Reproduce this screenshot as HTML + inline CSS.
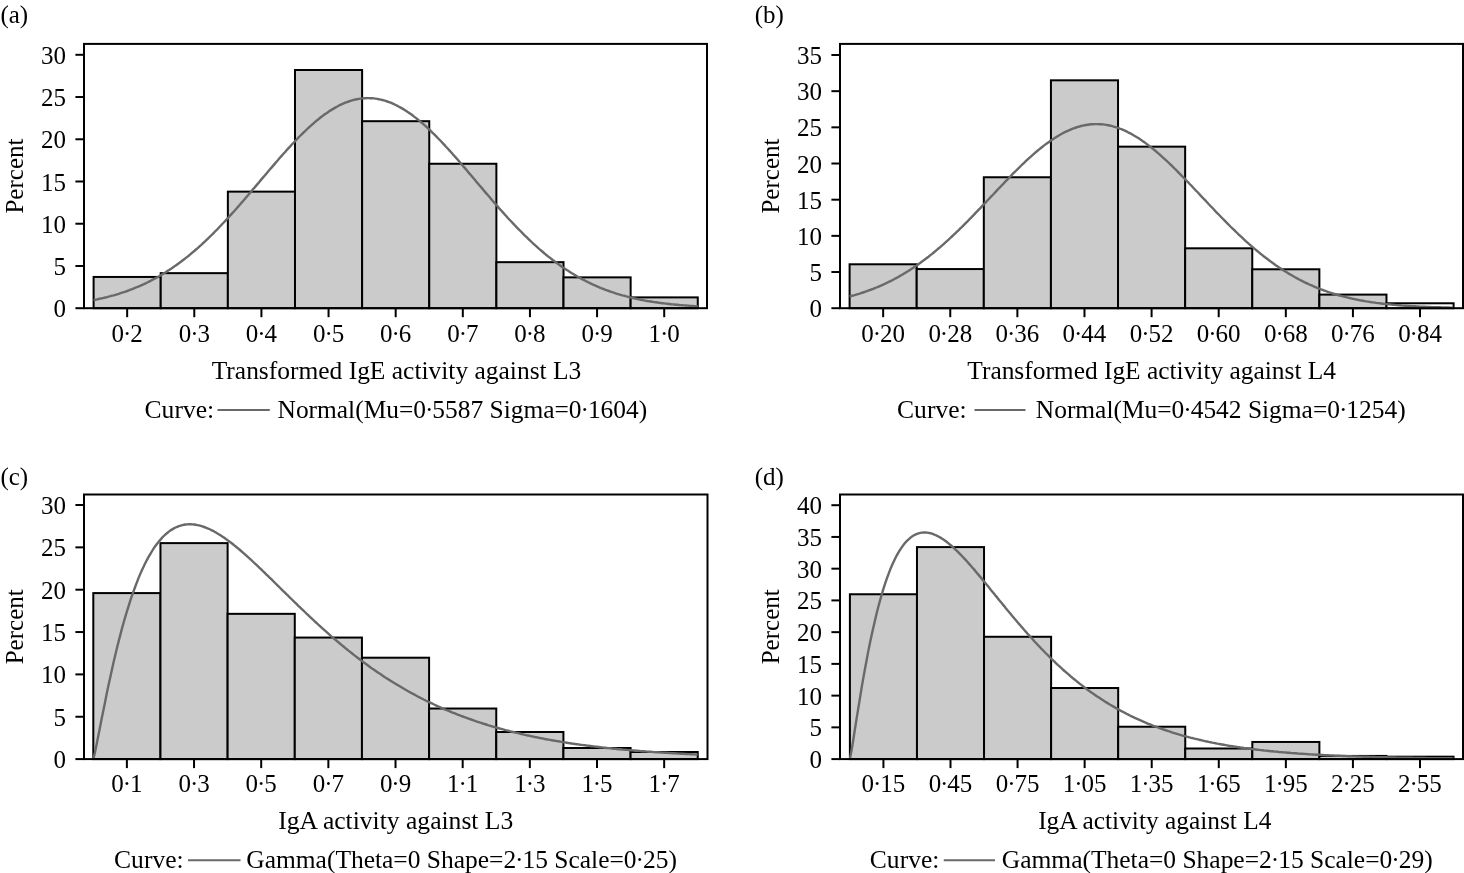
<!DOCTYPE html>
<html lang="en"><head><meta charset="utf-8"><title>Histograms of IgE and IgA activity</title>
<style>html,body{margin:0;padding:0;background:#fff}svg{display:block;will-change:transform;filter:grayscale(1)}</style></head>
<body>
<svg width="1464" height="873" viewBox="0 0 1464 873" font-family="'Liberation Serif', 'Times New Roman', Times, serif" font-size="25" fill="#000">
<rect width="1464" height="873" fill="#fff"/>
<g>
<rect x="93.60" y="276.95" width="67.13" height="31.25" fill="#cbcbcb" stroke="#000" stroke-width="2"/>
<rect x="160.73" y="273.15" width="67.13" height="35.05" fill="#cbcbcb" stroke="#000" stroke-width="2"/>
<rect x="227.86" y="191.64" width="67.13" height="116.56" fill="#cbcbcb" stroke="#000" stroke-width="2"/>
<rect x="294.99" y="70.00" width="67.13" height="238.20" fill="#cbcbcb" stroke="#000" stroke-width="2"/>
<rect x="362.12" y="121.19" width="67.13" height="187.01" fill="#cbcbcb" stroke="#000" stroke-width="2"/>
<rect x="429.25" y="163.76" width="67.13" height="144.44" fill="#cbcbcb" stroke="#000" stroke-width="2"/>
<rect x="496.38" y="262.17" width="67.13" height="46.03" fill="#cbcbcb" stroke="#000" stroke-width="2"/>
<rect x="563.51" y="277.37" width="67.13" height="30.83" fill="#cbcbcb" stroke="#000" stroke-width="2"/>
<rect x="630.64" y="297.39" width="67.13" height="10.81" fill="#cbcbcb" stroke="#000" stroke-width="2"/>
<polyline points="93.6,300.0 95.3,299.7 97.0,299.4 98.6,299.0 100.3,298.6 102.0,298.3 103.7,297.9 105.3,297.5 107.0,297.1 108.7,296.6 110.4,296.2 112.1,295.7 113.7,295.3 115.4,294.8 117.1,294.3 118.8,293.8 120.5,293.2 122.1,292.7 123.8,292.1 125.5,291.6 127.2,291.0 128.8,290.4 130.5,289.7 132.2,289.1 133.9,288.4 135.6,287.7 137.2,287.0 138.9,286.3 140.6,285.6 142.3,284.8 143.9,284.1 145.6,283.3 147.3,282.5 149.0,281.6 150.7,280.8 152.3,279.9 154.0,279.0 155.7,278.1 157.4,277.2 159.1,276.2 160.7,275.2 162.4,274.2 164.1,273.2 165.8,272.2 167.4,271.1 169.1,270.0 170.8,268.9 172.5,267.8 174.2,266.6 175.8,265.4 177.5,264.2 179.2,263.0 180.9,261.8 182.5,260.5 184.2,259.2 185.9,257.9 187.6,256.6 189.3,255.2 190.9,253.8 192.6,252.4 194.3,251.0 196.0,249.5 197.7,248.1 199.3,246.6 201.0,245.1 202.7,243.5 204.4,242.0 206.0,240.4 207.7,238.8 209.4,237.2 211.1,235.5 212.8,233.9 214.4,232.2 216.1,230.5 217.8,228.8 219.5,227.0 221.1,225.3 222.8,223.5 224.5,221.7 226.2,219.9 227.9,218.1 229.5,216.3 231.2,214.4 232.9,212.5 234.6,210.7 236.3,208.8 237.9,206.9 239.6,205.0 241.3,203.0 243.0,201.1 244.6,199.2 246.3,197.2 248.0,195.3 249.7,193.3 251.4,191.3 253.0,189.3 254.7,187.4 256.4,185.4 258.1,183.4 259.7,181.4 261.4,179.4 263.1,177.4 264.8,175.5 266.5,173.5 268.1,171.5 269.8,169.5 271.5,167.6 273.2,165.6 274.9,163.6 276.5,161.7 278.2,159.8 279.9,157.8 281.6,155.9 283.2,154.0 284.9,152.2 286.6,150.3 288.3,148.4 290.0,146.6 291.6,144.8 293.3,143.0 295.0,141.2 296.7,139.5 298.3,137.7 300.0,136.0 301.7,134.4 303.4,132.7 305.1,131.1 306.7,129.5 308.4,127.9 310.1,126.4 311.8,124.9 313.5,123.4 315.1,121.9 316.8,120.5 318.5,119.2 320.2,117.8 321.8,116.5 323.5,115.3 325.2,114.0 326.9,112.9 328.6,111.7 330.2,110.6 331.9,109.6 333.6,108.6 335.3,107.6 336.9,106.7 338.6,105.8 340.3,104.9 342.0,104.1 343.7,103.4 345.3,102.7 347.0,102.1 348.7,101.5 350.4,100.9 352.1,100.4 353.7,99.9 355.4,99.5 357.1,99.2 358.8,98.9 360.4,98.6 362.1,98.4 363.8,98.3 365.5,98.2 367.2,98.1 368.8,98.1 370.5,98.2 372.2,98.3 373.9,98.4 375.5,98.6 377.2,98.9 378.9,99.2 380.6,99.6 382.3,100.0 383.9,100.4 385.6,100.9 387.3,101.5 389.0,102.1 390.7,102.7 392.3,103.4 394.0,104.2 395.7,105.0 397.4,105.8 399.0,106.7 400.7,107.6 402.4,108.6 404.1,109.6 405.8,110.7 407.4,111.8 409.1,112.9 410.8,114.1 412.5,115.3 414.1,116.6 415.8,117.9 417.5,119.2 419.2,120.6 420.9,122.0 422.5,123.4 424.2,124.9 425.9,126.4 427.6,128.0 429.2,129.5 430.9,131.1 432.6,132.8 434.3,134.4 436.0,136.1 437.6,137.8 439.3,139.5 441.0,141.3 442.7,143.1 444.4,144.9 446.0,146.7 447.7,148.5 449.4,150.4 451.1,152.2 452.7,154.1 454.4,156.0 456.1,157.9 457.8,159.8 459.5,161.8 461.1,163.7 462.8,165.7 464.5,167.6 466.2,169.6 467.8,171.6 469.5,173.6 471.2,175.5 472.9,177.5 474.6,179.5 476.2,181.5 477.9,183.5 479.6,185.5 481.3,187.4 483.0,189.4 484.6,191.4 486.3,193.4 488.0,195.3 489.7,197.3 491.3,199.2 493.0,201.2 494.7,203.1 496.4,205.0 498.1,206.9 499.7,208.9 501.4,210.7 503.1,212.6 504.8,214.5 506.4,216.3 508.1,218.2 509.8,220.0 511.5,221.8 513.2,223.6 514.8,225.3 516.5,227.1 518.2,228.8 519.9,230.5 521.6,232.2 523.2,233.9 524.9,235.6 526.6,237.2 528.3,238.8 529.9,240.4 531.6,242.0 533.3,243.6 535.0,245.1 536.7,246.6 538.3,248.1 540.0,249.6 541.7,251.0 543.4,252.5 545.0,253.9 546.7,255.3 548.4,256.6 550.1,257.9 551.8,259.3 553.4,260.6 555.1,261.8 556.8,263.1 558.5,264.3 560.2,265.5 561.8,266.7 563.5,267.8 565.2,268.9 566.9,270.1 568.5,271.1 570.2,272.2 571.9,273.3 573.6,274.3 575.3,275.3 576.9,276.2 578.6,277.2 580.3,278.1 582.0,279.1 583.6,279.9 585.3,280.8 587.0,281.7 588.7,282.5 590.4,283.3 592.0,284.1 593.7,284.9 595.4,285.6 597.1,286.4 598.8,287.1 600.4,287.8 602.1,288.5 603.8,289.1 605.5,289.8 607.1,290.4 608.8,291.0 610.5,291.6 612.2,292.2 613.9,292.7 615.5,293.3 617.2,293.8 618.9,294.3 620.6,294.8 622.2,295.3 623.9,295.7 625.6,296.2 627.3,296.6 629.0,297.1 630.6,297.5 632.3,297.9 634.0,298.3 635.7,298.6 637.4,299.0 639.0,299.4 640.7,299.7 642.4,300.0 644.1,300.4 645.7,300.7 647.4,301.0 649.1,301.2 650.8,301.5 652.5,301.8 654.1,302.1 655.8,302.3 657.5,302.5 659.2,302.8 660.8,303.0 662.5,303.2 664.2,303.4 665.9,303.6 667.6,303.8 669.2,304.0 670.9,304.2 672.6,304.4 674.3,304.5 676.0,304.7 677.6,304.8 679.3,305.0 681.0,305.1 682.7,305.3 684.3,305.4 686.0,305.5 687.7,305.6 689.4,305.8 691.1,305.9 692.7,306.0 694.4,306.1 696.1,306.2 697.8,306.3" fill="none" stroke="#696969" stroke-width="2.4" stroke-linejoin="round"/>
<rect x="84" y="43.9" width="623" height="264.3" fill="none" stroke="#000" stroke-width="2"/>
<line x1="75.4" y1="308.20" x2="84" y2="308.20" stroke="#000" stroke-width="2"/>
<text x="66" y="317.20" text-anchor="end">0</text>
<line x1="75.4" y1="265.97" x2="84" y2="265.97" stroke="#000" stroke-width="2"/>
<text x="66" y="274.97" text-anchor="end">5</text>
<line x1="75.4" y1="223.73" x2="84" y2="223.73" stroke="#000" stroke-width="2"/>
<text x="66" y="232.73" text-anchor="end">10</text>
<line x1="75.4" y1="181.50" x2="84" y2="181.50" stroke="#000" stroke-width="2"/>
<text x="66" y="190.50" text-anchor="end">15</text>
<line x1="75.4" y1="139.27" x2="84" y2="139.27" stroke="#000" stroke-width="2"/>
<text x="66" y="148.27" text-anchor="end">20</text>
<line x1="75.4" y1="97.03" x2="84" y2="97.03" stroke="#000" stroke-width="2"/>
<text x="66" y="106.03" text-anchor="end">25</text>
<line x1="75.4" y1="54.80" x2="84" y2="54.80" stroke="#000" stroke-width="2"/>
<text x="66" y="63.80" text-anchor="end">30</text>
<line x1="127.16" y1="308.2" x2="127.16" y2="317.2" stroke="#000" stroke-width="2"/>
<text x="127.16" y="341.6" text-anchor="middle">0<tspan dx="-1.04">·</tspan><tspan dx="-1.04">2</tspan></text>
<line x1="194.29" y1="308.2" x2="194.29" y2="317.2" stroke="#000" stroke-width="2"/>
<text x="194.29" y="341.6" text-anchor="middle">0<tspan dx="-1.04">·</tspan><tspan dx="-1.04">3</tspan></text>
<line x1="261.42" y1="308.2" x2="261.42" y2="317.2" stroke="#000" stroke-width="2"/>
<text x="261.42" y="341.6" text-anchor="middle">0<tspan dx="-1.04">·</tspan><tspan dx="-1.04">4</tspan></text>
<line x1="328.55" y1="308.2" x2="328.55" y2="317.2" stroke="#000" stroke-width="2"/>
<text x="328.55" y="341.6" text-anchor="middle">0<tspan dx="-1.04">·</tspan><tspan dx="-1.04">5</tspan></text>
<line x1="395.68" y1="308.2" x2="395.68" y2="317.2" stroke="#000" stroke-width="2"/>
<text x="395.68" y="341.6" text-anchor="middle">0<tspan dx="-1.04">·</tspan><tspan dx="-1.04">6</tspan></text>
<line x1="462.81" y1="308.2" x2="462.81" y2="317.2" stroke="#000" stroke-width="2"/>
<text x="462.81" y="341.6" text-anchor="middle">0<tspan dx="-1.04">·</tspan><tspan dx="-1.04">7</tspan></text>
<line x1="529.94" y1="308.2" x2="529.94" y2="317.2" stroke="#000" stroke-width="2"/>
<text x="529.94" y="341.6" text-anchor="middle">0<tspan dx="-1.04">·</tspan><tspan dx="-1.04">8</tspan></text>
<line x1="597.07" y1="308.2" x2="597.07" y2="317.2" stroke="#000" stroke-width="2"/>
<text x="597.07" y="341.6" text-anchor="middle">0<tspan dx="-1.04">·</tspan><tspan dx="-1.04">9</tspan></text>
<line x1="664.21" y1="308.2" x2="664.21" y2="317.2" stroke="#000" stroke-width="2"/>
<text x="664.21" y="341.6" text-anchor="middle">1<tspan dx="-1.04">·</tspan><tspan dx="-1.04">0</tspan></text>
<text transform="translate(23.1,176.04999999999998) rotate(-90)" text-anchor="middle">Percent</text>
<text x="0.4" y="22.6">(a)</text>
<text x="211.70" y="378.6" textLength="369.60" lengthAdjust="spacingAndGlyphs">Transformed IgE activity against L3</text>
<text x="144.60" y="417.8" textLength="69.50" lengthAdjust="spacingAndGlyphs">Curve:</text>
<line x1="217.5" y1="410.1" x2="269.8" y2="410.1" stroke="#696969" stroke-width="2"/>
<text x="277.55" y="417.8" textLength="369.65" lengthAdjust="spacingAndGlyphs">Normal(Mu=0<tspan dx="-1.04">·</tspan><tspan dx="-1.04">5587 Sigma=0</tspan><tspan dx="-1.04">·</tspan><tspan dx="-1.04">1604)</tspan></text>
</g>
<g>
<rect x="849.60" y="264.29" width="67.11" height="43.91" fill="#cbcbcb" stroke="#000" stroke-width="2"/>
<rect x="916.71" y="269.06" width="67.11" height="39.14" fill="#cbcbcb" stroke="#000" stroke-width="2"/>
<rect x="983.82" y="177.26" width="67.11" height="130.94" fill="#cbcbcb" stroke="#000" stroke-width="2"/>
<rect x="1050.93" y="80.32" width="67.11" height="227.88" fill="#cbcbcb" stroke="#000" stroke-width="2"/>
<rect x="1118.04" y="146.66" width="67.11" height="161.54" fill="#cbcbcb" stroke="#000" stroke-width="2"/>
<rect x="1185.15" y="248.30" width="67.11" height="59.90" fill="#cbcbcb" stroke="#000" stroke-width="2"/>
<rect x="1252.26" y="269.28" width="67.11" height="38.92" fill="#cbcbcb" stroke="#000" stroke-width="2"/>
<rect x="1319.37" y="294.60" width="67.11" height="13.60" fill="#cbcbcb" stroke="#000" stroke-width="2"/>
<rect x="1386.48" y="303.28" width="67.11" height="4.92" fill="#ffffff" stroke="#000" stroke-width="2"/>
<polyline points="849.6,296.5 851.3,296.0 853.0,295.5 854.6,295.1 856.3,294.6 858.0,294.1 859.7,293.6 861.3,293.0 863.0,292.5 864.7,291.9 866.4,291.3 868.1,290.7 869.7,290.1 871.4,289.5 873.1,288.9 874.8,288.2 876.4,287.5 878.1,286.8 879.8,286.1 881.5,285.4 883.2,284.6 884.8,283.8 886.5,283.0 888.2,282.2 889.9,281.4 891.5,280.6 893.2,279.7 894.9,278.8 896.6,277.9 898.3,277.0 899.9,276.0 901.6,275.0 903.3,274.1 905.0,273.0 906.6,272.0 908.3,271.0 910.0,269.9 911.7,268.8 913.4,267.7 915.0,266.5 916.7,265.4 918.4,264.2 920.1,263.0 921.7,261.8 923.4,260.6 925.1,259.3 926.8,258.0 928.5,256.7 930.1,255.4 931.8,254.1 933.5,252.7 935.2,251.3 936.8,249.9 938.5,248.5 940.2,247.1 941.9,245.6 943.6,244.1 945.2,242.6 946.9,241.1 948.6,239.6 950.3,238.0 951.9,236.5 953.6,234.9 955.3,233.3 957.0,231.7 958.7,230.1 960.3,228.4 962.0,226.8 963.7,225.1 965.4,223.4 967.0,221.8 968.7,220.1 970.4,218.3 972.1,216.6 973.8,214.9 975.4,213.1 977.1,211.4 978.8,209.6 980.5,207.9 982.1,206.1 983.8,204.4 985.5,202.6 987.2,200.8 988.9,199.0 990.5,197.2 992.2,195.5 993.9,193.7 995.6,191.9 997.2,190.1 998.9,188.3 1000.6,186.6 1002.3,184.8 1004.0,183.1 1005.6,181.3 1007.3,179.6 1009.0,177.8 1010.7,176.1 1012.3,174.4 1014.0,172.7 1015.7,171.0 1017.4,169.3 1019.1,167.7 1020.7,166.0 1022.4,164.4 1024.1,162.8 1025.8,161.2 1027.4,159.7 1029.1,158.1 1030.8,156.6 1032.5,155.1 1034.2,153.6 1035.8,152.2 1037.5,150.8 1039.2,149.4 1040.9,148.0 1042.5,146.7 1044.2,145.4 1045.9,144.1 1047.6,142.9 1049.3,141.7 1050.9,140.5 1052.6,139.4 1054.3,138.3 1056.0,137.2 1057.6,136.2 1059.3,135.2 1061.0,134.2 1062.7,133.3 1064.4,132.4 1066.0,131.6 1067.7,130.8 1069.4,130.1 1071.1,129.3 1072.7,128.7 1074.4,128.1 1076.1,127.5 1077.8,126.9 1079.5,126.5 1081.1,126.0 1082.8,125.6 1084.5,125.3 1086.2,125.0 1087.8,124.7 1089.5,124.5 1091.2,124.3 1092.9,124.2 1094.6,124.1 1096.2,124.1 1097.9,124.1 1099.6,124.2 1101.3,124.3 1102.9,124.4 1104.6,124.6 1106.3,124.9 1108.0,125.2 1109.7,125.5 1111.3,125.9 1113.0,126.4 1114.7,126.8 1116.4,127.4 1118.0,127.9 1119.7,128.6 1121.4,129.2 1123.1,129.9 1124.8,130.6 1126.4,131.4 1128.1,132.3 1129.8,133.1 1131.5,134.0 1133.1,135.0 1134.8,136.0 1136.5,137.0 1138.2,138.0 1139.9,139.1 1141.5,140.3 1143.2,141.4 1144.9,142.6 1146.6,143.9 1148.2,145.1 1149.9,146.4 1151.6,147.8 1153.3,149.1 1155.0,150.5 1156.6,151.9 1158.3,153.4 1160.0,154.8 1161.7,156.3 1163.3,157.8 1165.0,159.4 1166.7,160.9 1168.4,162.5 1170.1,164.1 1171.7,165.7 1173.4,167.4 1175.1,169.0 1176.8,170.7 1178.4,172.4 1180.1,174.1 1181.8,175.8 1183.5,177.5 1185.2,179.2 1186.8,181.0 1188.5,182.7 1190.2,184.5 1191.9,186.2 1193.5,188.0 1195.2,189.8 1196.9,191.5 1198.6,193.3 1200.2,195.1 1201.9,196.9 1203.6,198.7 1205.3,200.4 1207.0,202.2 1208.6,204.0 1210.3,205.8 1212.0,207.5 1213.7,209.3 1215.3,211.1 1217.0,212.8 1218.7,214.5 1220.4,216.3 1222.1,218.0 1223.7,219.7 1225.4,221.4 1227.1,223.1 1228.8,224.8 1230.4,226.5 1232.1,228.1 1233.8,229.7 1235.5,231.4 1237.2,233.0 1238.8,234.6 1240.5,236.2 1242.2,237.7 1243.9,239.3 1245.5,240.8 1247.2,242.3 1248.9,243.8 1250.6,245.3 1252.3,246.8 1253.9,248.2 1255.6,249.6 1257.3,251.0 1259.0,252.4 1260.6,253.8 1262.3,255.1 1264.0,256.5 1265.7,257.8 1267.4,259.0 1269.0,260.3 1270.7,261.6 1272.4,262.8 1274.1,264.0 1275.7,265.2 1277.4,266.3 1279.1,267.5 1280.8,268.6 1282.5,269.7 1284.1,270.7 1285.8,271.8 1287.5,272.8 1289.2,273.9 1290.8,274.8 1292.5,275.8 1294.2,276.8 1295.9,277.7 1297.6,278.6 1299.2,279.5 1300.9,280.4 1302.6,281.2 1304.3,282.1 1305.9,282.9 1307.6,283.7 1309.3,284.5 1311.0,285.2 1312.7,285.9 1314.3,286.7 1316.0,287.4 1317.7,288.1 1319.4,288.7 1321.0,289.4 1322.7,290.0 1324.4,290.6 1326.1,291.2 1327.8,291.8 1329.4,292.4 1331.1,292.9 1332.8,293.5 1334.5,294.0 1336.1,294.5 1337.8,295.0 1339.5,295.5 1341.2,295.9 1342.9,296.4 1344.5,296.8 1346.2,297.2 1347.9,297.6 1349.6,298.0 1351.2,298.4 1352.9,298.8 1354.6,299.1 1356.3,299.5 1358.0,299.8 1359.6,300.2 1361.3,300.5 1363.0,300.8 1364.7,301.1 1366.3,301.4 1368.0,301.6 1369.7,301.9 1371.4,302.2 1373.1,302.4 1374.7,302.6 1376.4,302.9 1378.1,303.1 1379.8,303.3 1381.4,303.5 1383.1,303.7 1384.8,303.9 1386.5,304.1 1388.2,304.3 1389.8,304.4 1391.5,304.6 1393.2,304.8 1394.9,304.9 1396.5,305.1 1398.2,305.2 1399.9,305.3 1401.6,305.5 1403.3,305.6 1404.9,305.7 1406.6,305.8 1408.3,305.9 1410.0,306.0 1411.6,306.1 1413.3,306.2 1415.0,306.3 1416.7,306.4 1418.4,306.5 1420.0,306.6 1421.7,306.7 1423.4,306.7 1425.1,306.8 1426.7,306.9 1428.4,306.9 1430.1,307.0 1431.8,307.1 1433.5,307.1 1435.1,307.2 1436.8,307.2 1438.5,307.3 1440.2,307.3 1441.8,307.4 1443.5,307.4 1445.2,307.4 1446.9,307.5 1448.6,307.5 1450.2,307.6 1451.9,307.6 1453.6,307.6" fill="none" stroke="#696969" stroke-width="2.4" stroke-linejoin="round"/>
<rect x="840" y="43.9" width="623" height="264.3" fill="none" stroke="#000" stroke-width="2"/>
<line x1="831.4" y1="308.20" x2="840" y2="308.20" stroke="#000" stroke-width="2"/>
<text x="822" y="317.20" text-anchor="end">0</text>
<line x1="831.4" y1="272.03" x2="840" y2="272.03" stroke="#000" stroke-width="2"/>
<text x="822" y="281.03" text-anchor="end">5</text>
<line x1="831.4" y1="235.86" x2="840" y2="235.86" stroke="#000" stroke-width="2"/>
<text x="822" y="244.86" text-anchor="end">10</text>
<line x1="831.4" y1="199.69" x2="840" y2="199.69" stroke="#000" stroke-width="2"/>
<text x="822" y="208.69" text-anchor="end">15</text>
<line x1="831.4" y1="163.51" x2="840" y2="163.51" stroke="#000" stroke-width="2"/>
<text x="822" y="172.51" text-anchor="end">20</text>
<line x1="831.4" y1="127.34" x2="840" y2="127.34" stroke="#000" stroke-width="2"/>
<text x="822" y="136.34" text-anchor="end">25</text>
<line x1="831.4" y1="91.17" x2="840" y2="91.17" stroke="#000" stroke-width="2"/>
<text x="822" y="100.17" text-anchor="end">30</text>
<line x1="831.4" y1="55.00" x2="840" y2="55.00" stroke="#000" stroke-width="2"/>
<text x="822" y="64.00" text-anchor="end">35</text>
<line x1="883.15" y1="308.2" x2="883.15" y2="317.2" stroke="#000" stroke-width="2"/>
<text x="883.15" y="341.6" text-anchor="middle">0<tspan dx="-1.04">·</tspan><tspan dx="-1.04">20</tspan></text>
<line x1="950.26" y1="308.2" x2="950.26" y2="317.2" stroke="#000" stroke-width="2"/>
<text x="950.26" y="341.6" text-anchor="middle">0<tspan dx="-1.04">·</tspan><tspan dx="-1.04">28</tspan></text>
<line x1="1017.38" y1="308.2" x2="1017.38" y2="317.2" stroke="#000" stroke-width="2"/>
<text x="1017.38" y="341.6" text-anchor="middle">0<tspan dx="-1.04">·</tspan><tspan dx="-1.04">36</tspan></text>
<line x1="1084.49" y1="308.2" x2="1084.49" y2="317.2" stroke="#000" stroke-width="2"/>
<text x="1084.49" y="341.6" text-anchor="middle">0<tspan dx="-1.04">·</tspan><tspan dx="-1.04">44</tspan></text>
<line x1="1151.60" y1="308.2" x2="1151.60" y2="317.2" stroke="#000" stroke-width="2"/>
<text x="1151.60" y="341.6" text-anchor="middle">0<tspan dx="-1.04">·</tspan><tspan dx="-1.04">52</tspan></text>
<line x1="1218.70" y1="308.2" x2="1218.70" y2="317.2" stroke="#000" stroke-width="2"/>
<text x="1218.70" y="341.6" text-anchor="middle">0<tspan dx="-1.04">·</tspan><tspan dx="-1.04">60</tspan></text>
<line x1="1285.82" y1="308.2" x2="1285.82" y2="317.2" stroke="#000" stroke-width="2"/>
<text x="1285.82" y="341.6" text-anchor="middle">0<tspan dx="-1.04">·</tspan><tspan dx="-1.04">68</tspan></text>
<line x1="1352.92" y1="308.2" x2="1352.92" y2="317.2" stroke="#000" stroke-width="2"/>
<text x="1352.92" y="341.6" text-anchor="middle">0<tspan dx="-1.04">·</tspan><tspan dx="-1.04">76</tspan></text>
<line x1="1420.03" y1="308.2" x2="1420.03" y2="317.2" stroke="#000" stroke-width="2"/>
<text x="1420.03" y="341.6" text-anchor="middle">0<tspan dx="-1.04">·</tspan><tspan dx="-1.04">84</tspan></text>
<text transform="translate(778.9,176.04999999999998) rotate(-90)" text-anchor="middle">Percent</text>
<text x="754.8" y="22.6">(b)</text>
<text x="967.30" y="378.6" textLength="368.75" lengthAdjust="spacingAndGlyphs">Transformed IgE activity against L4</text>
<text x="897.10" y="417.8" textLength="69.50" lengthAdjust="spacingAndGlyphs">Curve:</text>
<line x1="974.5" y1="410.1" x2="1025.5" y2="410.1" stroke="#696969" stroke-width="2"/>
<text x="1035.80" y="417.8" textLength="369.85" lengthAdjust="spacingAndGlyphs">Normal(Mu=0<tspan dx="-1.04">·</tspan><tspan dx="-1.04">4542 Sigma=0</tspan><tspan dx="-1.04">·</tspan><tspan dx="-1.04">1254)</tspan></text>
</g>
<g>
<rect x="93.30" y="593.09" width="67.16" height="166.01" fill="#cbcbcb" stroke="#000" stroke-width="2"/>
<rect x="160.46" y="543.12" width="67.16" height="215.99" fill="#cbcbcb" stroke="#000" stroke-width="2"/>
<rect x="227.62" y="613.84" width="67.16" height="145.26" fill="#cbcbcb" stroke="#000" stroke-width="2"/>
<rect x="294.78" y="637.56" width="67.16" height="121.54" fill="#cbcbcb" stroke="#000" stroke-width="2"/>
<rect x="361.94" y="657.71" width="67.16" height="101.39" fill="#cbcbcb" stroke="#000" stroke-width="2"/>
<rect x="429.10" y="708.53" width="67.16" height="50.57" fill="#cbcbcb" stroke="#000" stroke-width="2"/>
<rect x="496.26" y="732.00" width="67.16" height="27.10" fill="#cbcbcb" stroke="#000" stroke-width="2"/>
<rect x="563.42" y="748.00" width="67.16" height="11.10" fill="#cbcbcb" stroke="#000" stroke-width="2"/>
<rect x="630.58" y="751.99" width="67.16" height="7.11" fill="#cbcbcb" stroke="#000" stroke-width="2"/>
<polyline points="93.3,759.1 95.0,752.2 96.7,744.1 98.3,735.7 100.0,727.2 101.7,718.6 103.4,710.2 105.1,701.9 106.7,693.7 108.4,685.7 110.1,677.9 111.8,670.3 113.4,662.9 115.1,655.7 116.8,648.7 118.5,641.9 120.2,635.4 121.8,629.1 123.5,623.0 125.2,617.2 126.9,611.5 128.6,606.1 130.2,600.9 131.9,595.9 133.6,591.1 135.3,586.5 137.0,582.1 138.6,577.9 140.3,573.9 142.0,570.1 143.7,566.5 145.3,563.1 147.0,559.8 148.7,556.7 150.4,553.8 152.1,551.0 153.7,548.4 155.4,546.0 157.1,543.7 158.8,541.6 160.5,539.6 162.1,537.7 163.8,536.0 165.5,534.4 167.2,533.0 168.9,531.6 170.5,530.4 172.2,529.4 173.9,528.4 175.6,527.5 177.2,526.8 178.9,526.1 180.6,525.6 182.3,525.1 184.0,524.8 185.6,524.5 187.3,524.4 189.0,524.3 190.7,524.3 192.4,524.4 194.0,524.5 195.7,524.8 197.4,525.1 199.1,525.4 200.8,525.9 202.4,526.4 204.1,527.0 205.8,527.6 207.5,528.3 209.2,529.0 210.8,529.8 212.5,530.6 214.2,531.5 215.9,532.5 217.5,533.5 219.2,534.5 220.9,535.6 222.6,536.7 224.3,537.8 225.9,539.0 227.6,540.2 229.3,541.4 231.0,542.7 232.7,544.0 234.3,545.4 236.0,546.7 237.7,548.1 239.4,549.5 241.1,551.0 242.7,552.4 244.4,553.9 246.1,555.4 247.8,556.9 249.4,558.4 251.1,559.9 252.8,561.5 254.5,563.1 256.2,564.6 257.8,566.2 259.5,567.8 261.2,569.4 262.9,571.1 264.6,572.7 266.2,574.3 267.9,575.9 269.6,577.6 271.3,579.2 273.0,580.9 274.6,582.5 276.3,584.2 278.0,585.8 279.7,587.5 281.3,589.1 283.0,590.8 284.7,592.4 286.4,594.1 288.1,595.7 289.7,597.4 291.4,599.0 293.1,600.7 294.8,602.3 296.5,603.9 298.1,605.6 299.8,607.2 301.5,608.8 303.2,610.4 304.9,612.0 306.5,613.6 308.2,615.2 309.9,616.8 311.6,618.4 313.2,619.9 314.9,621.5 316.6,623.0 318.3,624.6 320.0,626.1 321.6,627.6 323.3,629.1 325.0,630.6 326.7,632.1 328.4,633.6 330.0,635.1 331.7,636.6 333.4,638.0 335.1,639.5 336.8,640.9 338.4,642.3 340.1,643.7 341.8,645.1 343.5,646.5 345.1,647.9 346.8,649.2 348.5,650.6 350.2,651.9 351.9,653.3 353.5,654.6 355.2,655.9 356.9,657.2 358.6,658.5 360.3,659.8 361.9,661.0 363.6,662.3 365.3,663.5 367.0,664.7 368.7,666.0 370.3,667.2 372.0,668.4 373.7,669.5 375.4,670.7 377.1,671.9 378.7,673.0 380.4,674.1 382.1,675.3 383.8,676.4 385.4,677.5 387.1,678.6 388.8,679.6 390.5,680.7 392.2,681.8 393.8,682.8 395.5,683.8 397.2,684.8 398.9,685.8 400.6,686.8 402.2,687.8 403.9,688.8 405.6,689.8 407.3,690.7 409.0,691.7 410.6,692.6 412.3,693.5 414.0,694.4 415.7,695.3 417.3,696.2 419.0,697.1 420.7,698.0 422.4,698.8 424.1,699.7 425.7,700.5 427.4,701.3 429.1,702.1 430.8,702.9 432.5,703.7 434.1,704.5 435.8,705.3 437.5,706.1 439.2,706.8 440.9,707.6 442.5,708.3 444.2,709.1 445.9,709.8 447.6,710.5 449.2,711.2 450.9,711.9 452.6,712.6 454.3,713.2 456.0,713.9 457.6,714.6 459.3,715.2 461.0,715.9 462.7,716.5 464.4,717.1 466.0,717.7 467.7,718.3 469.4,718.9 471.1,719.5 472.8,720.1 474.4,720.7 476.1,721.3 477.8,721.8 479.5,722.4 481.1,722.9 482.8,723.5 484.5,724.0 486.2,724.5 487.9,725.1 489.5,725.6 491.2,726.1 492.9,726.6 494.6,727.1 496.3,727.5 497.9,728.0 499.6,728.5 501.3,728.9 503.0,729.4 504.7,729.9 506.3,730.3 508.0,730.7 509.7,731.2 511.4,731.6 513.0,732.0 514.7,732.4 516.4,732.8 518.1,733.2 519.8,733.6 521.4,734.0 523.1,734.4 524.8,734.8 526.5,735.2 528.2,735.5 529.8,735.9 531.5,736.3 533.2,736.6 534.9,737.0 536.6,737.3 538.2,737.6 539.9,738.0 541.6,738.3 543.3,738.6 545.0,739.0 546.6,739.3 548.3,739.6 550.0,739.9 551.7,740.2 553.3,740.5 555.0,740.8 556.7,741.1 558.4,741.3 560.1,741.6 561.7,741.9 563.4,742.2 565.1,742.4 566.8,742.7 568.5,743.0 570.1,743.2 571.8,743.5 573.5,743.7 575.2,744.0 576.9,744.2 578.5,744.4 580.2,744.7 581.9,744.9 583.6,745.1 585.2,745.3 586.9,745.6 588.6,745.8 590.3,746.0 592.0,746.2 593.6,746.4 595.3,746.6 597.0,746.8 598.7,747.0 600.4,747.2 602.0,747.4 603.7,747.6 605.4,747.8 607.1,748.0 608.8,748.1 610.4,748.3 612.1,748.5 613.8,748.7 615.5,748.8 617.1,749.0 618.8,749.2 620.5,749.3 622.2,749.5 623.9,749.6 625.5,749.8 627.2,749.9 628.9,750.1 630.6,750.2 632.3,750.4 633.9,750.5 635.6,750.7 637.3,750.8 639.0,750.9 640.7,751.1 642.3,751.2 644.0,751.3 645.7,751.4 647.4,751.6 649.0,751.7 650.7,751.8 652.4,751.9 654.1,752.1 655.8,752.2 657.4,752.3 659.1,752.4 660.8,752.5 662.5,752.6 664.2,752.7 665.8,752.8 667.5,752.9 669.2,753.0 670.9,753.1 672.6,753.2 674.2,753.3 675.9,753.4 677.6,753.5 679.3,753.6 680.9,753.7 682.6,753.8 684.3,753.9 686.0,754.0 687.7,754.1 689.3,754.1 691.0,754.2 692.7,754.3 694.4,754.4 696.1,754.5 697.7,754.5" fill="none" stroke="#696969" stroke-width="2.4" stroke-linejoin="round"/>
<rect x="84" y="494.5" width="623.5" height="264.6" fill="none" stroke="#000" stroke-width="2"/>
<line x1="75.4" y1="759.10" x2="84" y2="759.10" stroke="#000" stroke-width="2"/>
<text x="66" y="768.10" text-anchor="end">0</text>
<line x1="75.4" y1="716.75" x2="84" y2="716.75" stroke="#000" stroke-width="2"/>
<text x="66" y="725.75" text-anchor="end">5</text>
<line x1="75.4" y1="674.40" x2="84" y2="674.40" stroke="#000" stroke-width="2"/>
<text x="66" y="683.40" text-anchor="end">10</text>
<line x1="75.4" y1="632.05" x2="84" y2="632.05" stroke="#000" stroke-width="2"/>
<text x="66" y="641.05" text-anchor="end">15</text>
<line x1="75.4" y1="589.70" x2="84" y2="589.70" stroke="#000" stroke-width="2"/>
<text x="66" y="598.70" text-anchor="end">20</text>
<line x1="75.4" y1="547.35" x2="84" y2="547.35" stroke="#000" stroke-width="2"/>
<text x="66" y="556.35" text-anchor="end">25</text>
<line x1="75.4" y1="505.00" x2="84" y2="505.00" stroke="#000" stroke-width="2"/>
<text x="66" y="514.00" text-anchor="end">30</text>
<line x1="126.88" y1="759.1" x2="126.88" y2="768.1" stroke="#000" stroke-width="2"/>
<text x="126.88" y="791.9" text-anchor="middle">0<tspan dx="-1.04">·</tspan><tspan dx="-1.04">1</tspan></text>
<line x1="194.04" y1="759.1" x2="194.04" y2="768.1" stroke="#000" stroke-width="2"/>
<text x="194.04" y="791.9" text-anchor="middle">0<tspan dx="-1.04">·</tspan><tspan dx="-1.04">3</tspan></text>
<line x1="261.20" y1="759.1" x2="261.20" y2="768.1" stroke="#000" stroke-width="2"/>
<text x="261.20" y="791.9" text-anchor="middle">0<tspan dx="-1.04">·</tspan><tspan dx="-1.04">5</tspan></text>
<line x1="328.36" y1="759.1" x2="328.36" y2="768.1" stroke="#000" stroke-width="2"/>
<text x="328.36" y="791.9" text-anchor="middle">0<tspan dx="-1.04">·</tspan><tspan dx="-1.04">7</tspan></text>
<line x1="395.52" y1="759.1" x2="395.52" y2="768.1" stroke="#000" stroke-width="2"/>
<text x="395.52" y="791.9" text-anchor="middle">0<tspan dx="-1.04">·</tspan><tspan dx="-1.04">9</tspan></text>
<line x1="462.68" y1="759.1" x2="462.68" y2="768.1" stroke="#000" stroke-width="2"/>
<text x="462.68" y="791.9" text-anchor="middle">1<tspan dx="-1.04">·</tspan><tspan dx="-1.04">1</tspan></text>
<line x1="529.84" y1="759.1" x2="529.84" y2="768.1" stroke="#000" stroke-width="2"/>
<text x="529.84" y="791.9" text-anchor="middle">1<tspan dx="-1.04">·</tspan><tspan dx="-1.04">3</tspan></text>
<line x1="597.00" y1="759.1" x2="597.00" y2="768.1" stroke="#000" stroke-width="2"/>
<text x="597.00" y="791.9" text-anchor="middle">1<tspan dx="-1.04">·</tspan><tspan dx="-1.04">5</tspan></text>
<line x1="664.16" y1="759.1" x2="664.16" y2="768.1" stroke="#000" stroke-width="2"/>
<text x="664.16" y="791.9" text-anchor="middle">1<tspan dx="-1.04">·</tspan><tspan dx="-1.04">7</tspan></text>
<text transform="translate(23.1,626.8) rotate(-90)" text-anchor="middle">Percent</text>
<text x="0.4" y="484.5">(c)</text>
<text x="278.15" y="828.5" textLength="235.15" lengthAdjust="spacingAndGlyphs">IgA activity against L3</text>
<text x="114.10" y="867.5" textLength="69.50" lengthAdjust="spacingAndGlyphs">Curve:</text>
<line x1="188" y1="860.3" x2="240.5" y2="860.3" stroke="#696969" stroke-width="2"/>
<text x="246.30" y="867.5" textLength="430.60" lengthAdjust="spacingAndGlyphs">Gamma(Theta=0 Shape=2<tspan dx="-1.04">·</tspan><tspan dx="-1.04">15 Scale=0</tspan><tspan dx="-1.04">·</tspan><tspan dx="-1.04">25)</tspan></text>
</g>
<g>
<rect x="849.90" y="594.26" width="67.07" height="164.84" fill="#cbcbcb" stroke="#000" stroke-width="2"/>
<rect x="916.97" y="547.09" width="67.07" height="212.01" fill="#cbcbcb" stroke="#000" stroke-width="2"/>
<rect x="984.04" y="636.78" width="67.07" height="122.32" fill="#cbcbcb" stroke="#000" stroke-width="2"/>
<rect x="1051.11" y="688.01" width="67.07" height="71.09" fill="#cbcbcb" stroke="#000" stroke-width="2"/>
<rect x="1118.18" y="726.73" width="67.07" height="32.37" fill="#cbcbcb" stroke="#000" stroke-width="2"/>
<rect x="1185.25" y="748.50" width="67.07" height="10.60" fill="#cbcbcb" stroke="#000" stroke-width="2"/>
<rect x="1252.32" y="741.96" width="67.07" height="17.14" fill="#cbcbcb" stroke="#000" stroke-width="2"/>
<rect x="1319.39" y="755.93" width="67.07" height="3.17" fill="#cbcbcb" stroke="#000" stroke-width="2"/>
<rect x="1386.46" y="756.69" width="67.07" height="2.41" fill="#cbcbcb" stroke="#000" stroke-width="2"/>
<polyline points="849.9,759.1 851.6,750.2 853.3,739.9 854.9,729.3 856.6,718.6 858.3,708.1 860.0,697.9 861.6,687.8 863.3,678.1 865.0,668.8 866.7,659.7 868.3,651.1 870.0,642.7 871.7,634.8 873.4,627.2 875.1,619.9 876.7,613.0 878.4,606.5 880.1,600.3 881.8,594.4 883.4,588.8 885.1,583.6 886.8,578.7 888.5,574.1 890.1,569.8 891.8,565.7 893.5,562.0 895.2,558.5 896.8,555.3 898.5,552.3 900.2,549.6 901.9,547.1 903.6,544.8 905.2,542.7 906.9,540.9 908.6,539.3 910.3,537.8 911.9,536.6 913.6,535.5 915.3,534.6 917.0,533.9 918.6,533.3 920.3,532.9 922.0,532.6 923.7,532.5 925.4,532.5 927.0,532.6 928.7,532.9 930.4,533.2 932.1,533.7 933.7,534.3 935.4,535.0 937.1,535.8 938.8,536.7 940.4,537.6 942.1,538.7 943.8,539.8 945.5,541.0 947.2,542.3 948.8,543.6 950.5,545.0 952.2,546.5 953.9,548.0 955.5,549.6 957.2,551.2 958.9,552.9 960.6,554.6 962.2,556.3 963.9,558.1 965.6,559.9 967.3,561.8 968.9,563.6 970.6,565.5 972.3,567.5 974.0,569.4 975.7,571.4 977.3,573.4 979.0,575.4 980.7,577.4 982.4,579.4 984.0,581.5 985.7,583.5 987.4,585.5 989.1,587.6 990.7,589.7 992.4,591.7 994.1,593.8 995.8,595.9 997.5,597.9 999.1,600.0 1000.8,602.0 1002.5,604.1 1004.2,606.1 1005.8,608.2 1007.5,610.2 1009.2,612.2 1010.9,614.3 1012.5,616.3 1014.2,618.3 1015.9,620.2 1017.6,622.2 1019.3,624.2 1020.9,626.1 1022.6,628.0 1024.3,630.0 1026.0,631.9 1027.6,633.8 1029.3,635.6 1031.0,637.5 1032.7,639.3 1034.3,641.2 1036.0,643.0 1037.7,644.8 1039.4,646.5 1041.0,648.3 1042.7,650.0 1044.4,651.8 1046.1,653.5 1047.8,655.1 1049.4,656.8 1051.1,658.5 1052.8,660.1 1054.5,661.7 1056.1,663.3 1057.8,664.9 1059.5,666.4 1061.2,667.9 1062.8,669.5 1064.5,671.0 1066.2,672.4 1067.9,673.9 1069.6,675.3 1071.2,676.8 1072.9,678.2 1074.6,679.5 1076.3,680.9 1077.9,682.3 1079.6,683.6 1081.3,684.9 1083.0,686.2 1084.6,687.5 1086.3,688.7 1088.0,690.0 1089.7,691.2 1091.4,692.4 1093.0,693.6 1094.7,694.7 1096.4,695.9 1098.1,697.0 1099.7,698.1 1101.4,699.2 1103.1,700.3 1104.8,701.4 1106.4,702.4 1108.1,703.4 1109.8,704.5 1111.5,705.5 1113.1,706.4 1114.8,707.4 1116.5,708.4 1118.2,709.3 1119.9,710.2 1121.5,711.1 1123.2,712.0 1124.9,712.9 1126.6,713.8 1128.2,714.6 1129.9,715.5 1131.6,716.3 1133.3,717.1 1134.9,717.9 1136.6,718.7 1138.3,719.4 1140.0,720.2 1141.7,720.9 1143.3,721.6 1145.0,722.4 1146.7,723.1 1148.4,723.8 1150.0,724.4 1151.7,725.1 1153.4,725.8 1155.1,726.4 1156.7,727.0 1158.4,727.7 1160.1,728.3 1161.8,728.9 1163.5,729.5 1165.1,730.0 1166.8,730.6 1168.5,731.2 1170.2,731.7 1171.8,732.3 1173.5,732.8 1175.2,733.3 1176.9,733.8 1178.5,734.3 1180.2,734.8 1181.9,735.3 1183.6,735.8 1185.2,736.2 1186.9,736.7 1188.6,737.1 1190.3,737.6 1192.0,738.0 1193.6,738.4 1195.3,738.8 1197.0,739.2 1198.7,739.6 1200.3,740.0 1202.0,740.4 1203.7,740.8 1205.4,741.2 1207.0,741.5 1208.7,741.9 1210.4,742.2 1212.1,742.6 1213.8,742.9 1215.4,743.2 1217.1,743.6 1218.8,743.9 1220.5,744.2 1222.1,744.5 1223.8,744.8 1225.5,745.1 1227.2,745.4 1228.8,745.7 1230.5,745.9 1232.2,746.2 1233.9,746.5 1235.6,746.7 1237.2,747.0 1238.9,747.2 1240.6,747.5 1242.3,747.7 1243.9,748.0 1245.6,748.2 1247.3,748.4 1249.0,748.6 1250.6,748.9 1252.3,749.1 1254.0,749.3 1255.7,749.5 1257.4,749.7 1259.0,749.9 1260.7,750.1 1262.4,750.3 1264.1,750.5 1265.7,750.6 1267.4,750.8 1269.1,751.0 1270.8,751.2 1272.4,751.3 1274.1,751.5 1275.8,751.6 1277.5,751.8 1279.1,752.0 1280.8,752.1 1282.5,752.3 1284.2,752.4 1285.9,752.5 1287.5,752.7 1289.2,752.8 1290.9,753.0 1292.6,753.1 1294.2,753.2 1295.9,753.3 1297.6,753.5 1299.3,753.6 1300.9,753.7 1302.6,753.8 1304.3,753.9 1306.0,754.0 1307.7,754.1 1309.3,754.3 1311.0,754.4 1312.7,754.5 1314.4,754.6 1316.0,754.7 1317.7,754.8 1319.4,754.8 1321.1,754.9 1322.7,755.0 1324.4,755.1 1326.1,755.2 1327.8,755.3 1329.5,755.4 1331.1,755.4 1332.8,755.5 1334.5,755.6 1336.2,755.7 1337.8,755.8 1339.5,755.8 1341.2,755.9 1342.9,756.0 1344.5,756.0 1346.2,756.1 1347.9,756.2 1349.6,756.2 1351.2,756.3 1352.9,756.4 1354.6,756.4 1356.3,756.5 1358.0,756.5 1359.6,756.6 1361.3,756.6 1363.0,756.7 1364.7,756.7 1366.3,756.8 1368.0,756.8 1369.7,756.9 1371.4,756.9 1373.0,757.0 1374.7,757.0 1376.4,757.1 1378.1,757.1 1379.8,757.2 1381.4,757.2 1383.1,757.3 1384.8,757.3 1386.5,757.3 1388.1,757.4 1389.8,757.4 1391.5,757.5 1393.2,757.5 1394.8,757.5 1396.5,757.6 1398.2,757.6 1399.9,757.6 1401.6,757.7 1403.2,757.7 1404.9,757.7 1406.6,757.8 1408.3,757.8 1409.9,757.8 1411.6,757.8 1413.3,757.9 1415.0,757.9 1416.6,757.9 1418.3,757.9 1420.0,758.0 1421.7,758.0 1423.3,758.0 1425.0,758.0 1426.7,758.1 1428.4,758.1 1430.1,758.1 1431.7,758.1 1433.4,758.2 1435.1,758.2 1436.8,758.2 1438.4,758.2 1440.1,758.2 1441.8,758.3 1443.5,758.3 1445.1,758.3 1446.8,758.3 1448.5,758.3 1450.2,758.3 1451.9,758.4 1453.5,758.4" fill="none" stroke="#696969" stroke-width="2.4" stroke-linejoin="round"/>
<rect x="840" y="494.5" width="623" height="264.6" fill="none" stroke="#000" stroke-width="2"/>
<line x1="831.4" y1="759.10" x2="840" y2="759.10" stroke="#000" stroke-width="2"/>
<text x="822" y="768.10" text-anchor="end">0</text>
<line x1="831.4" y1="727.36" x2="840" y2="727.36" stroke="#000" stroke-width="2"/>
<text x="822" y="736.36" text-anchor="end">5</text>
<line x1="831.4" y1="695.62" x2="840" y2="695.62" stroke="#000" stroke-width="2"/>
<text x="822" y="704.62" text-anchor="end">10</text>
<line x1="831.4" y1="663.89" x2="840" y2="663.89" stroke="#000" stroke-width="2"/>
<text x="822" y="672.89" text-anchor="end">15</text>
<line x1="831.4" y1="632.15" x2="840" y2="632.15" stroke="#000" stroke-width="2"/>
<text x="822" y="641.15" text-anchor="end">20</text>
<line x1="831.4" y1="600.41" x2="840" y2="600.41" stroke="#000" stroke-width="2"/>
<text x="822" y="609.41" text-anchor="end">25</text>
<line x1="831.4" y1="568.67" x2="840" y2="568.67" stroke="#000" stroke-width="2"/>
<text x="822" y="577.67" text-anchor="end">30</text>
<line x1="831.4" y1="536.94" x2="840" y2="536.94" stroke="#000" stroke-width="2"/>
<text x="822" y="545.94" text-anchor="end">35</text>
<line x1="831.4" y1="505.20" x2="840" y2="505.20" stroke="#000" stroke-width="2"/>
<text x="822" y="514.20" text-anchor="end">40</text>
<line x1="883.43" y1="759.1" x2="883.43" y2="768.1" stroke="#000" stroke-width="2"/>
<text x="883.43" y="791.9" text-anchor="middle">0<tspan dx="-1.04">·</tspan><tspan dx="-1.04">15</tspan></text>
<line x1="950.50" y1="759.1" x2="950.50" y2="768.1" stroke="#000" stroke-width="2"/>
<text x="950.50" y="791.9" text-anchor="middle">0<tspan dx="-1.04">·</tspan><tspan dx="-1.04">45</tspan></text>
<line x1="1017.57" y1="759.1" x2="1017.57" y2="768.1" stroke="#000" stroke-width="2"/>
<text x="1017.57" y="791.9" text-anchor="middle">0<tspan dx="-1.04">·</tspan><tspan dx="-1.04">75</tspan></text>
<line x1="1084.64" y1="759.1" x2="1084.64" y2="768.1" stroke="#000" stroke-width="2"/>
<text x="1084.64" y="791.9" text-anchor="middle">1<tspan dx="-1.04">·</tspan><tspan dx="-1.04">05</tspan></text>
<line x1="1151.71" y1="759.1" x2="1151.71" y2="768.1" stroke="#000" stroke-width="2"/>
<text x="1151.71" y="791.9" text-anchor="middle">1<tspan dx="-1.04">·</tspan><tspan dx="-1.04">35</tspan></text>
<line x1="1218.78" y1="759.1" x2="1218.78" y2="768.1" stroke="#000" stroke-width="2"/>
<text x="1218.78" y="791.9" text-anchor="middle">1<tspan dx="-1.04">·</tspan><tspan dx="-1.04">65</tspan></text>
<line x1="1285.86" y1="759.1" x2="1285.86" y2="768.1" stroke="#000" stroke-width="2"/>
<text x="1285.86" y="791.9" text-anchor="middle">1<tspan dx="-1.04">·</tspan><tspan dx="-1.04">95</tspan></text>
<line x1="1352.92" y1="759.1" x2="1352.92" y2="768.1" stroke="#000" stroke-width="2"/>
<text x="1352.92" y="791.9" text-anchor="middle">2<tspan dx="-1.04">·</tspan><tspan dx="-1.04">25</tspan></text>
<line x1="1419.99" y1="759.1" x2="1419.99" y2="768.1" stroke="#000" stroke-width="2"/>
<text x="1419.99" y="791.9" text-anchor="middle">2<tspan dx="-1.04">·</tspan><tspan dx="-1.04">55</tspan></text>
<text transform="translate(778.9,626.8) rotate(-90)" text-anchor="middle">Percent</text>
<text x="754.8" y="484.5">(d)</text>
<text x="1038.15" y="828.5" textLength="233.25" lengthAdjust="spacingAndGlyphs">IgA activity against L4</text>
<text x="869.85" y="867.5" textLength="69.50" lengthAdjust="spacingAndGlyphs">Curve:</text>
<line x1="943.75" y1="860.3" x2="995" y2="860.3" stroke="#696969" stroke-width="2"/>
<text x="1001.80" y="867.5" textLength="430.85" lengthAdjust="spacingAndGlyphs">Gamma(Theta=0 Shape=2<tspan dx="-1.04">·</tspan><tspan dx="-1.04">15 Scale=0</tspan><tspan dx="-1.04">·</tspan><tspan dx="-1.04">29)</tspan></text>
</g>
</svg>
</body></html>
